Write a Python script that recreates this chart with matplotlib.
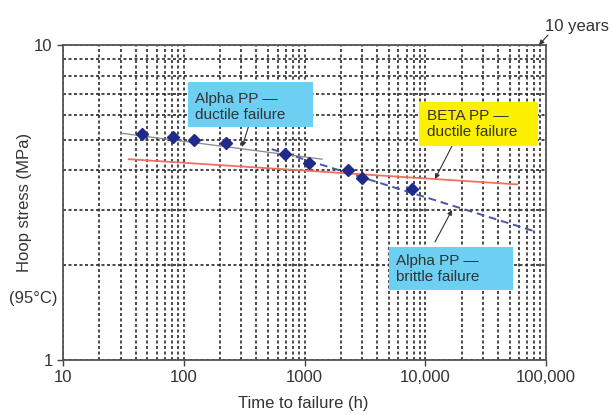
import matplotlib
matplotlib.use("Agg")
import matplotlib.pyplot as plt
from matplotlib.patches import Rectangle
from matplotlib.ticker import LogLocator, FixedLocator, NullFormatter

plt.rcParams['font.family'] = ['Liberation Sans', 'DejaVu Sans']

# Data
alpha_t = [45, 81, 122, 224, 689, 1096, 2306, 3011, 7725]
alpha_s = [5.21, 5.09, 4.98, 4.875, 4.50, 4.21, 4.01, 3.79, 3.49]

alpha_ductile_t = [30, 1400]
alpha_ductile_s = [5.25, 4.34]

alpha_brittle_t = [535, 81000]
alpha_brittle_s = [4.67, 2.56]

beta_ductile_t = [35, 57800]
beta_ductile_s = [4.34, 3.61]

xticks = [10, 100, 1000, 10000, 100000]
xticklabels = ["10", "100", "1000", "10,000", "100,000"]
yticks = [1, 10]
yticklabels = ["1", "10"]

W, H = 612, 415
fig = plt.figure(figsize=(W/100, H/100), dpi=100)
ax = fig.add_axes([63/W, 55/H, 483/W, 315/H])
ax.set_xscale("log")
ax.set_yscale("log")
ax.set_xlim(10, 100000)
ax.set_ylim(1, 10)

ax.xaxis.set_major_locator(FixedLocator(xticks))
ax.xaxis.set_minor_locator(LogLocator(base=10, subs=range(2, 10)))
ax.xaxis.set_minor_formatter(NullFormatter())
ax.set_xticklabels(xticklabels)
ax.yaxis.set_major_locator(FixedLocator(yticks))
ax.yaxis.set_minor_locator(LogLocator(base=10, subs=range(2, 10)))
ax.yaxis.set_minor_formatter(NullFormatter())
ax.set_yticklabels(yticklabels)

fc = "#333333"
ax.tick_params(which="major", length=4, width=1, labelsize=12, colors="#444444", labelcolor=fc)
ax.tick_params(which="minor", length=0)
ax.grid(True, which="both", color="#2a2a2a", linestyle=(0, (1.8, 1.5)), linewidth=1.2)
for s in ax.spines.values():
    s.set_color("#555555")
    s.set_linewidth(1.3)

ax.plot(alpha_ductile_t, alpha_ductile_s, color="#888888", lw=0.9, zorder=3)
ax.plot(beta_ductile_t, beta_ductile_s, color="#f07060", lw=1.3, zorder=3)
ax.plot(alpha_brittle_t, alpha_brittle_s, color="#4a55a8", lw=1.4, ls=(0, (4, 2.5)), zorder=3)
ax.plot(alpha_t, alpha_s, linestyle="none", marker="D", markersize=6.5,
        color="#1f2a8a", zorder=4)


def fp(x, y):
    return (x, H - y)


def box(x0, y0, x1, y1, color):
    r = Rectangle((x0, H - y1), x1 - x0, y1 - y0, transform=None,
                  facecolor=color, edgecolor="none", zorder=5)
    fig.patches.append(r)


arrow = dict(arrowstyle="-|>", color="#333333", lw=0.8, mutation_scale=7,
             shrinkA=0, shrinkB=0)

blue = "#6dcff2"
yellow = "#fbf000"

# Alpha PP ductile
box(188, 82, 313, 127, blue)
fig.text(195/W, 1 - 107/H, "Alpha PP —\nductile failure", fontsize=11, color=fc,
         va="center", ha="left", linespacing=1.2, zorder=6)
ax.annotate("", xy=fp(242, 147), xycoords="figure pixels", xytext=fp(249, 125),
            textcoords="figure pixels", arrowprops=arrow, zorder=6)

# BETA PP ductile
box(419, 102, 538, 146, yellow)
fig.text(427/W, 1 - 124/H, "BETA PP —\nductile failure", fontsize=11, color=fc,
         va="center", ha="left", linespacing=1.2, zorder=6)
ax.annotate("", xy=fp(435, 179), xycoords="figure pixels", xytext=fp(452, 146),
            textcoords="figure pixels", arrowprops=arrow, zorder=6)

# Alpha PP brittle
box(389, 247, 513, 290, blue)
fig.text(396/W, 1 - 269/H, "Alpha PP —\nbrittle failure", fontsize=11, color=fc,
         va="center", ha="left", linespacing=1.2, zorder=6)
ax.annotate("", xy=fp(452, 210), xycoords="figure pixels", xytext=fp(435, 242),
            textcoords="figure pixels", arrowprops=arrow, zorder=6)

# 10 years
fig.text(545/W, 1 - 26/H, "10 years", fontsize=12, color=fc, va="center", ha="left")
ax.annotate("", xy=fp(539, 45), xycoords="figure pixels", xytext=fp(548, 35),
            textcoords="figure pixels", arrowprops=arrow, annotation_clip=False)

fig.text(25/W, 1 - 202/H, "Hoop stress (MPa)", rotation=90, ha="center", va="center",
         fontsize=12, color=fc)
fig.text(33/W, 1 - 298/H, "(95°C)", ha="center", va="center", fontsize=12, color=fc)
fig.text(303/W, 1 - 403/H, "Time to failure (h)", ha="center", va="center",
         fontsize=12, color=fc)

fig.savefig("out.png", dpi=100)
